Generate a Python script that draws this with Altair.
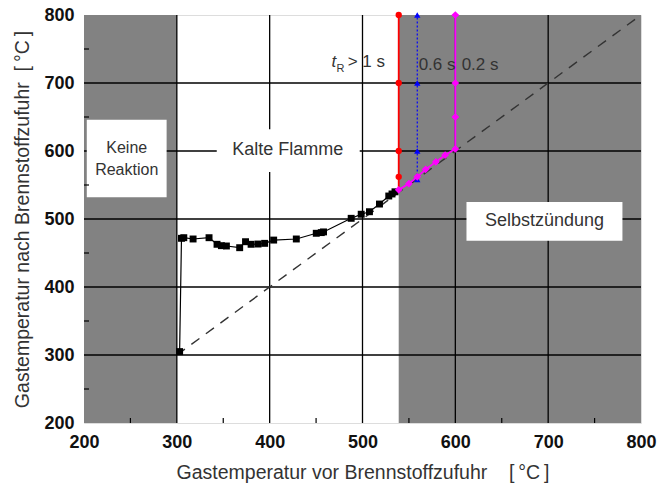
import altair as alt
import pandas as pd

FONT = "Liberation Sans"
W, H = 557, 408

# ---- data ----
cold_x = [303, 305, 307.5, 317.5, 334.7, 343.3, 348, 353.4, 367.7, 374, 380, 387.5, 394.6,
          404.3, 428.7, 450.2, 455.6, 458, 487.8, 498.6, 507.5, 518.3, 528.3, 531.8, 535]
cold_y = [305, 471.6, 472.5, 470.6, 472.5, 462.8, 460.8, 460.3, 457.8, 466.6, 462.8, 463.2, 464.2,
          469, 470.6, 479, 480, 481, 501, 507, 510.7, 522, 533.8, 536.8, 540]

red_x = [539, 539, 539, 539, 539]
red_y = [543, 562, 600, 700, 800]

blue_x = [559, 559, 559, 559]
blue_y = [558, 600, 700, 800]

mag_x = [539, 550, 559, 568, 579, 589, 600, 600, 600, 600]
mag_y = [543, 552, 562, 573, 584, 594, 603, 650, 700, 800]

diag = [300, 800]

shade_x1 = [200, 539]
shade_x2 = [300, 800]

grid_vals = [300, 400, 500, 600, 700]
minor_vals = [250, 350, 450, 550, 650, 750]

box_x1 = [203, 343, 612]
box_x2 = [289, 497, 780]
box_y1 = [532, 569, 468]
box_y2 = [646, 632, 525]

lbl_text = ["Keine", "Reaktion", "Kalte Flamme", "Selbstzündung"]
lbl_x = [246, 246, 419.5, 696]
lbl_y = [604, 572, 601.5, 497]
lbl_size = [16, 16, 18, 18]

it_text = ["t"]
it_x = [466.5]
it_y = [731]

tr_text = ["R", "> 1 s", "0.6 s", "0.2 s"]
tr_x = [472, 484, 560.5, 606.8]
tr_y = [720, 731, 727, 727]
tr_size = [11, 17, 17, 17]

ticks = [200, 300, 400, 500, 600, 700, 800]

xs = alt.Scale(domain=[200, 800], nice=False, zero=False)
ys = alt.Scale(domain=[200, 800], nice=False, zero=False)

x_axis = alt.Axis(values=ticks, grid=False, ticks=False, domain=False, labelFont=FONT,
                  labelFontSize=18, labelFontWeight="bold", labelColor="#111",
                  labelFlush=False, labelOverlap=False,
                  labelPadding=10, title="Gastemperatur vor Brennstoffzufuhr\u00a0\u00a0\u00a0\u00a0[\u2009°C\u2009]",
                  titleFont=FONT, titleFontSize=19.5, titleFontWeight="normal", titleColor="#333",
                  titlePadding=12)
y_axis = alt.Axis(values=ticks, grid=False, ticks=False, domain=False, labelFont=FONT,
                  labelFontSize=18, labelFontWeight="bold", labelColor="#111",
                  labelFlush=False, labelOverlap=False,
                  labelPadding=10, title="Gastemperatur nach Brennstoffzufuhr\u00a0\u00a0[\u2009°C\u2009]",
                  titleFont=FONT, titleFontSize=19.5, titleFontWeight="normal", titleColor="#333",
                  titlePadding=11)

shade_df = pd.DataFrame({"x1": shade_x1, "x2": shade_x2})
shade = alt.Chart(shade_df).mark_rect(color="#828282").encode(
    x=alt.X("x1:Q", scale=xs, axis=x_axis), x2="x2:Q",
    y=alt.value(0), y2=alt.value(H))

grid_df = pd.DataFrame({"v": grid_vals})
hgrid = alt.Chart(grid_df).mark_rule(color="#000", strokeWidth=1.3).encode(
    y=alt.Y("v:Q", scale=ys, axis=y_axis))
vgrid = alt.Chart(grid_df).mark_rule(color="#000", strokeWidth=1.3).encode(
    x=alt.X("v:Q", scale=xs))

box_df = pd.DataFrame({"x1": box_x1, "x2": box_x2, "y1": box_y1, "y2": box_y2})
boxes = alt.Chart(box_df).mark_rect(color="white").encode(
    x=alt.X("x1:Q", scale=xs), x2="x2:Q", y=alt.Y("y1:Q", scale=ys), y2="y2:Q")

minor_df = pd.DataFrame({"v": minor_vals})
mticks_x = alt.Chart(minor_df).mark_rule(color="#000", strokeWidth=1.2).encode(
    x=alt.X("v:Q", scale=xs), y=alt.value(H), y2=alt.value(H - 5))
mticks_y = alt.Chart(minor_df).mark_rule(color="#000", strokeWidth=1.2).encode(
    y=alt.Y("v:Q", scale=ys), x=alt.value(0), x2=alt.value(5))

diag_df = pd.DataFrame({"x": diag, "y": diag})
diag_line = alt.Chart(diag_df).mark_line(color="#333", strokeWidth=1.4, strokeDash=[10, 8]).encode(
    x=alt.X("x:Q", scale=xs), y=alt.Y("y:Q", scale=ys))

cold_df = pd.DataFrame({"x": cold_x, "y": cold_y, "i": list(range(len(cold_x)))})
cold_line = alt.Chart(cold_df).mark_line(color="#000", strokeWidth=1.2).encode(
    x=alt.X("x:Q", scale=xs), y=alt.Y("y:Q", scale=ys), order="i:Q")
cold_pts = alt.Chart(cold_df).mark_point(shape="square", filled=True, color="#000", size=48, opacity=1).encode(
    x=alt.X("x:Q", scale=xs), y=alt.Y("y:Q", scale=ys))

red_df = pd.DataFrame({"x": red_x, "y": red_y})
red_line = alt.Chart(red_df).mark_line(color="#ff0000", strokeWidth=1.8).encode(
    x=alt.X("x:Q", scale=xs), y=alt.Y("y:Q", scale=ys), order="y:Q")
red_pts = alt.Chart(red_df[red_df.y > 550]).mark_point(shape="circle", filled=True, color="#ff0000", size=40, opacity=1).encode(
    x=alt.X("x:Q", scale=xs), y=alt.Y("y:Q", scale=ys))

blue_df = pd.DataFrame({"x": blue_x, "y": blue_y})
blue_line = alt.Chart(blue_df).mark_line(color="#0000ff", strokeWidth=1.2, strokeDash=[2, 2]).encode(
    x=alt.X("x:Q", scale=xs), y=alt.Y("y:Q", scale=ys), order="y:Q")
blue_pts = alt.Chart(blue_df).mark_point(shape="triangle-up", filled=True, color="#0000ff", size=40, opacity=1).encode(
    x=alt.X("x:Q", scale=xs), y=alt.Y("y:Q", scale=ys))

mag_df = pd.DataFrame({"x": mag_x, "y": mag_y, "i": list(range(len(mag_x)))})
mag_line = alt.Chart(mag_df).mark_line(color="#ff00ff", strokeWidth=1.8).encode(
    x=alt.X("x:Q", scale=xs), y=alt.Y("y:Q", scale=ys), order="i:Q")
mag_pts = alt.Chart(mag_df).mark_point(shape="diamond", filled=True, color="#ff00ff", size=60, opacity=1).encode(
    x=alt.X("x:Q", scale=xs), y=alt.Y("y:Q", scale=ys))

lbl_df = pd.DataFrame({"t": lbl_text, "x": lbl_x, "y": lbl_y, "s": lbl_size})
labels = alt.Chart(lbl_df).mark_text(font=FONT, color="#333", align="center", baseline="middle").encode(
    x=alt.X("x:Q", scale=xs), y=alt.Y("y:Q", scale=ys), text="t:N",
    size=alt.Size("s:Q", scale=None, legend=None))

it_df = pd.DataFrame({"t": it_text, "x": it_x, "y": it_y})
it_labels = alt.Chart(it_df).mark_text(font=FONT, color="#333", align="left", baseline="middle",
                                       fontStyle="italic", fontSize=17).encode(
    x=alt.X("x:Q", scale=xs), y=alt.Y("y:Q", scale=ys), text="t:N")

tr_df = pd.DataFrame({"t": tr_text, "x": tr_x, "y": tr_y, "s": tr_size})
tr_labels = alt.Chart(tr_df).mark_text(font=FONT, color="#333", align="left", baseline="middle").encode(
    x=alt.X("x:Q", scale=xs), y=alt.Y("y:Q", scale=ys), text="t:N",
    size=alt.Size("s:Q", scale=None, legend=None))

chart = alt.layer(
    shade, hgrid, vgrid, boxes, mticks_x, mticks_y, diag_line,
    cold_line, cold_pts, red_line, blue_line, mag_line, red_pts, blue_pts, mag_pts,
    labels, it_labels, tr_labels
).properties(
    width=W, height=H,
    autosize=alt.AutoSizeParams(type="none"),
    padding={"left": 84, "top": 15, "right": 17, "bottom": 63},
).configure_view(stroke="#000", strokeWidth=1.5).configure(background="white")

chart.save("out.html", embed_options={"renderer": "svg", "actions": False})
